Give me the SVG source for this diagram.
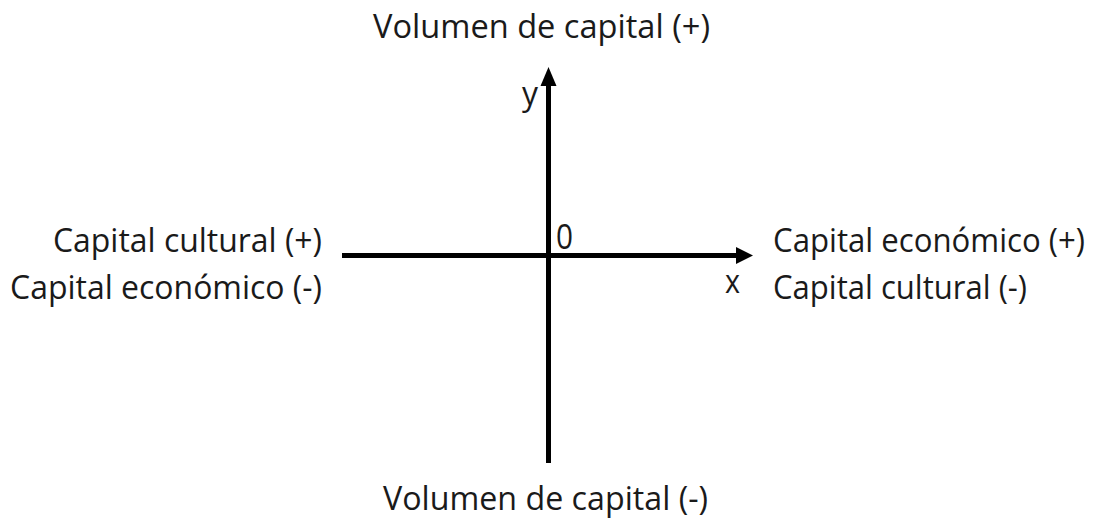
<svg xmlns="http://www.w3.org/2000/svg" width="1094" height="520" viewBox="0 0 1094 520">
<style>
.t{font-family:"Open Sans","Noto Sans","Liberation Sans",sans-serif;font-size:33px;fill:#1a1a1a}
.ax{stroke:#000;stroke-width:5;fill:none}
.ah{fill:#000}
</style>
<rect width="1094" height="520" fill="#fff"/>
<g id="connectors">
<line class="ax" x1="548.5" y1="84" x2="548.5" y2="463"/>
<polygon class="ah" points="548.5,67 540.5,86 556.5,86"/>
<line class="ax" x1="342" y1="255.5" x2="738" y2="255.5"/>
<polygon class="ah" points="753,255.5 736,247 736,264"/>
</g>
<g id="top-label"><text class="t" x="373" y="38" textLength="337" lengthAdjust="spacingAndGlyphs">Volumen de capital (+)</text></g>
<g id="bottom-label"><text class="t" x="383" y="510" textLength="325" lengthAdjust="spacingAndGlyphs">Volumen de capital (-)</text></g>
<g id="left-label">
<text class="t" x="53" y="252" textLength="269" lengthAdjust="spacingAndGlyphs">Capital cultural (+)</text>
<text class="t" x="10" y="299" textLength="312" lengthAdjust="spacingAndGlyphs">Capital económico (-)</text>
</g>
<g id="right-label">
<text class="t" x="773" y="252" textLength="312" lengthAdjust="spacingAndGlyphs">Capital económico (+)</text>
<text class="t" x="773" y="299" textLength="254" lengthAdjust="spacingAndGlyphs">Capital cultural (-)</text>
</g>
<g id="axis-labels">
<text class="t" x="522" y="105" textLength="16" lengthAdjust="spacingAndGlyphs">y</text>
<text class="t" x="725" y="293" textLength="15" lengthAdjust="spacingAndGlyphs">x</text>
<text class="t" x="556" y="249" style="font-size:35px" textLength="17" lengthAdjust="spacingAndGlyphs">0</text>
</g>
</svg>
